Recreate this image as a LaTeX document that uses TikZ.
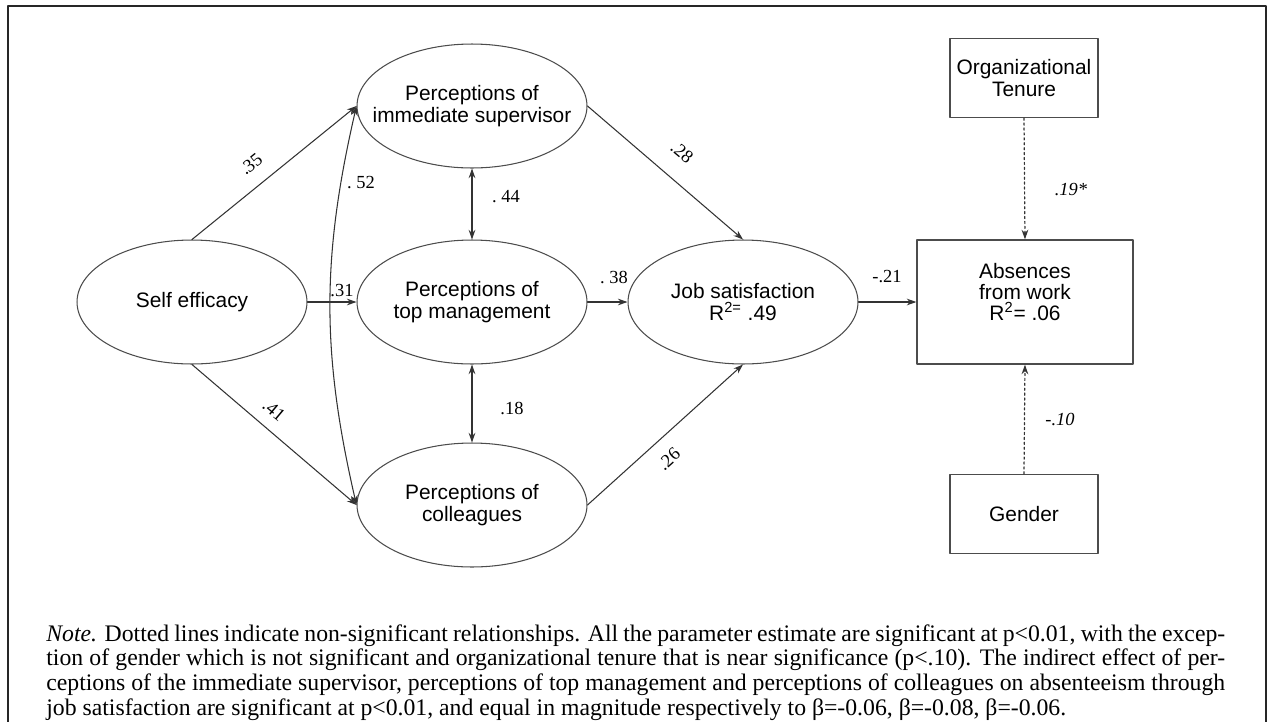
\documentclass[tikz,border=0pt]{standalone}
\usepackage{fontspec}
\setmainfont{Liberation Serif}
\newfontfamily\arialfont{Liberation Sans}
\usetikzlibrary{arrows.meta,shapes.geometric}
\newcommand{\noteline}[1]{\makebox[23.58cm][s]{#1}}

\begin{document}
\begin{tikzpicture}[x=0.02cm, y=-0.02cm, line join=round, line cap=round,
	>={Stealth[length=5.5pt,width=3.8pt]},
	latent/.style={ellipse, draw=black!70, line width=0.6pt, minimum width=4.6cm, minimum height=2.48cm, inner xsep=-11pt, inner ysep=0pt, align=center, font=\arialfont\fontsize{11.9}{12.4}\selectfont},
	observed/.style={rectangle, draw=black!70, line width=0.7pt, inner sep=0pt, align=center, font=\arialfont\fontsize{11.9}{12.2}\selectfont},
	effect/.style={->, draw=black!80, line width=0.6pt},
	corr/.style={<->, draw=black!80, line width=0.6pt},
	nonsig/.style={->, draw=black!80, line width=0.7pt, dash pattern=on 1.2pt off 1.6pt},
	coef/.style={inner sep=1pt, font=\fontsize{10.5}{12}\selectfont}]
	\useasboundingbox (0,0) rectangle (1269,721);
	% frame
	\draw[black!85, line width=0.9pt] (8,730) -- (8,6) -- (1266,6) -- (1266,730);
	% latent variables
	\node[latent] (self) at (192,302) {Self efficacy};
	\node[latent] (sup) at (472,106) {Perceptions of\\immediate supervisor};
	\node[latent] (top) at (472,302) {Perceptions of\\top management};
	\node[latent] (col) at (472,505) {Perceptions of\\colleagues};
	\node[latent] (job) at (743,302) {Job satisfaction\\R\textsuperscript{2=} .49};
	% observed variables
	\node[observed, minimum width=4.32cm, minimum height=2.48cm] (abs) at (1025,302) {};
	\node[align=center, inner sep=0pt, font=\arialfont\fontsize{11.9}{11.8}\selectfont] (abstext) at (1025,292) {Absences\\from work\\R\textsuperscript{2}= .06};
	\node[observed, minimum width=2.96cm, minimum height=1.58cm] (ten) at (1024,78) {Organizational\\Tenure};
	\node[observed, minimum width=2.96cm, minimum height=1.58cm] (gen) at (1024,514) {Gender};
	% paths
	\draw[effect] (self.north) -- (sup.west);
	\draw[effect] (self.east) -- (top.west);
	\draw[effect] (self.south) -- (col.west);
	\draw[effect] (sup.east) -- (job.north);
	\draw[effect] (top.east) -- (job.west);
	\draw[effect] (col.east) -- (job.south);
	\draw[effect] (job.east) -- (abs.west);
	\draw[corr] (sup.south) -- (top.north);
	\draw[corr] (top.south) -- (col.north);
	\draw[corr] (sup.west) to[bend right=13] (col.west);
	\draw[nonsig] (ten.south) -- (abs.north);
	\draw[nonsig] (gen.north) -- (abs.south);
	% coefficients
	\node[coef, rotate=39] (c35) at (251,164) {.35};
	\node[coef] (c52) at (361,183) {.\ 52};
	\node[coef] (c31) at (342,291) {.31};
	\node[coef, rotate=-40] (c41) at (274,410) {.41};
	\node[coef] (c44) at (506,197) {.\ 44};
	\node[coef] (c18) at (512,408) {.18};
	\node[coef, rotate=-40] (c28) at (682,152) {.28};
	\node[coef] (c38) at (614,277) {.\ 38};
	\node[coef, rotate=42] (c26) at (669,459) {.26};
	\node[coef] (c21) at (887,277) {-.21};
	\node[coef, font=\itshape\fontsize{10.5}{12}\selectfont] (c19) at (1071,190) {.19*};
	\node[coef, font=\itshape\fontsize{10.5}{12}\selectfont] (c10) at (1060,419) {-.10};
	% note
	\node[anchor=north west, inner sep=0pt, align=left, font=\fontsize{13.5}{14.1}\selectfont] (note) at (46,624)
	{\noteline{\textit{Note.} Dotted lines indicate non-significant relationships. All the parameter estimate are significant at p<0.01, with the excep-}\\
	\noteline{tion of gender which is not significant and organizational tenure that is near significance (p<.10). The indirect effect of per-}\\
	\noteline{ceptions of the immediate supervisor, perceptions of top management and perceptions of colleagues on absenteeism through}\\
	job satisfaction are significant at p<0.01, and equal in magnitude respectively to β=-0.06, β=-0.08, β=-0.06.};
\end{tikzpicture}
\end{document}
